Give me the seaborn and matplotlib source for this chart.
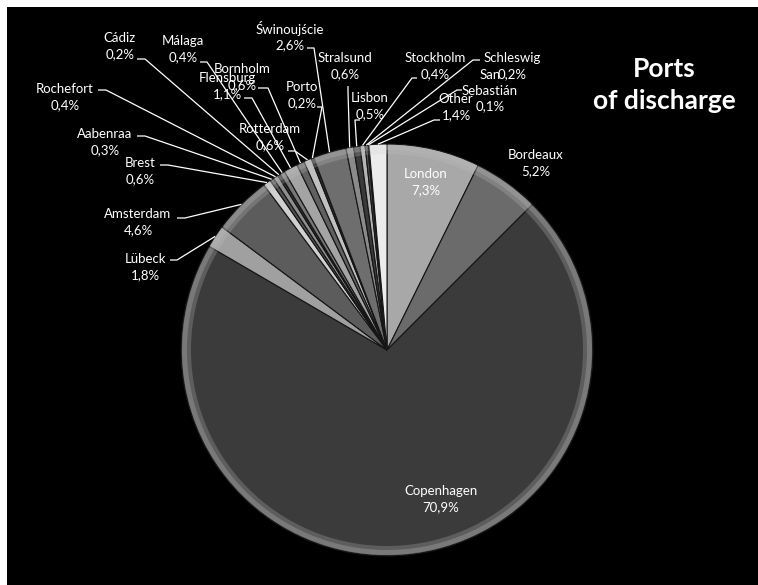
import matplotlib
matplotlib.use("Agg")
import matplotlib.pyplot as plt
import seaborn as sns
import numpy as np
from matplotlib.patches import Rectangle, Wedge
import matplotlib.colors as mcolors

# ---- data ----
ports = ["London", "Bordeaux", "Copenhagen", "Lübeck", "Amsterdam", "Brest",
         "Aabenraa", "Rochefort", "Cádiz", "Málaga", "Flensburg", "Bornholm",
         "Rotterdam", "Porto", "Świnoujście", "Stralsund", "Lisbon", "Stockholm",
         "Schleswig", "San Sebastián", "Other"]
shares = [7.3, 5.2, 70.9, 1.8, 4.6, 0.6, 0.3, 0.4, 0.2, 0.4, 1.1, 0.6,
          0.6, 0.2, 2.6, 0.6, 0.5, 0.4, 0.2, 0.1, 1.4]
label_names = ["London", "Bordeaux", "Copenhagen", "Lübeck", "Amsterdam", "Brest",
               "Aabenraa", "Rochefort", "Cádiz", "Málaga", "Flensburg", "Bornholm",
               "Rotterdam", "Porto", "Świnoujście", "Stralsund", "Lisbon", "Stockholm",
               "Schleswig", "San\nSebastián", "Other"]
title_text = "Ports\nof discharge"

# ---- styling ----
grays = ["#a8a8a8", "#6b6b6b", "#3b3b3b", "#a0a0a0", "#5c5c5c", "#d0d0d0",
         "#505050", "#8e8e8e", "#303030", "#777777", "#a4a4a4", "#606060",
         "#c0c0c0", "#2a2a2a", "#6e6e6e", "#8a8a8a", "#3a3a3a", "#b5b5b5",
         "#505050", "#a0a0a0", "#ececec"]

# label block centres and leader stubs in pixel coordinates (x, y from top)
label_pos = {
    "London": (426, 182), "Bordeaux": (536, 163), "Copenhagen": (441, 499),
    "Lübeck": (145, 267), "Amsterdam": (138, 222), "Brest": (140, 171),
    "Aabenraa": (105, 142), "Rochefort": (65, 97), "Cádiz": (120, 46),
    "Málaga": (183, 49), "Flensburg": (227, 86), "Bornholm": (242, 77),
    "Rotterdam": (270, 137), "Porto": (302, 95), "Świnoujście": (290, 36),
    "Stralsund": (345, 66), "Lisbon": (370, 106), "Stockholm": (435, 66),
    "Schleswig": (512, 66), "San Sebastián": (490, 91), "Other": (456, 107),
}
leader_stub = {
    "Lübeck": [(170, 260), (177, 260)], "Amsterdam": [(177, 218), (185, 218)],
    "Brest": [(160, 165), (168, 165)], "Aabenraa": [(137, 136), (145, 136)],
    "Rochefort": [(98, 90), (106, 90)], "Cádiz": [(137, 59), (145, 59)],
    "Málaga": [(200, 62), (207, 62)], "Flensburg": [(244, 98), (252, 98)],
    "Bornholm": [(258, 88), (268, 88)], "Rotterdam": [(288, 151), (295, 151)],
    "Porto": [(317, 107), (322, 107)], "Świnoujście": [(307, 48), (314, 48)],
    "Stralsund": [(348, 86), (348, 92)], "Lisbon": [(360, 120), (355, 120)],
    "Stockholm": [(417, 78), (412, 78)], "Schleswig": [(480, 60), (473, 60)],
    "San Sebastián": [(462, 90), (457, 90)], "Other": [(440, 120), (434, 120)],
}

W, H = 758, 585
CX, CY, R = 387, 350, 206

sns.set_theme(style="dark")
plt.rcParams["font.family"] = ["Lato", "DejaVu Sans"]

fig = plt.figure(figsize=(W / 100, H / 100), dpi=100)
fig.patch.set_facecolor("white")
fig.add_artist(Rectangle((7 / W, 0), 1, (H - 7) / H, transform=fig.transFigure,
                         facecolor="black", edgecolor="none", zorder=0))
ax = fig.add_axes([0, 0, 1, 1])
ax.patch.set_alpha(0)


def P(x, y):
    return (x, H - y)


wedges, _ = ax.pie(shares, colors=grays, startangle=90, counterclock=False,
                   center=P(CX, CY), radius=R, frame=True,
                   wedgeprops=dict(edgecolor="#151515", linewidth=0.8))

# subtle bevel: lighter band blending toward the rim of each wedge
for w, c in zip(wedges, grays):
    rgb = np.array(mcolors.to_rgb(c))
    light = np.clip(rgb + 0.08, 0, 1)
    for rr, wd, al in [(R - 1, 9, 0.25), (R - 1, 5, 0.3)]:
        ax.add_patch(Wedge(P(CX, CY), rr, w.theta1 + 0.3, w.theta2 - 0.3, width=wd,
                           facecolor=light, edgecolor="none", zorder=2.5, alpha=al))

ax.set_xlim(0, W)
ax.set_ylim(0, H)
ax.set_aspect("equal")
ax.set_xticks([])
ax.set_yticks([])
for s in ax.spines.values():
    s.set_visible(False)

for w, name, lab, val in zip(wedges, ports, label_names, shares):
    txt = f"{lab}\n{val:.1f}".replace(".", ",") + "%"
    tx, ty = label_pos[name]
    ax.text(*P(tx, ty), txt, ha="center", va="center", color="white",
            fontsize=9.5, linespacing=1.36, zorder=5)
    if name in leader_stub:
        mid = np.deg2rad((w.theta1 + w.theta2) / 2)
        ex = CX + R * np.cos(mid)
        ey = CY - R * np.sin(mid)
        pts = [P(*p) for p in leader_stub[name]] + [P(ex, ey)]
        xs, ys = zip(*pts)
        ax.plot(xs, ys, color="white", lw=0.9, zorder=4, solid_capstyle="butt")

ax.text(*P(664, 85), title_text, ha="center", va="center", color="white",
        fontsize=19, fontweight="bold", linespacing=1.36, zorder=5)

fig.savefig("out.png", dpi=100, facecolor=fig.get_facecolor())
